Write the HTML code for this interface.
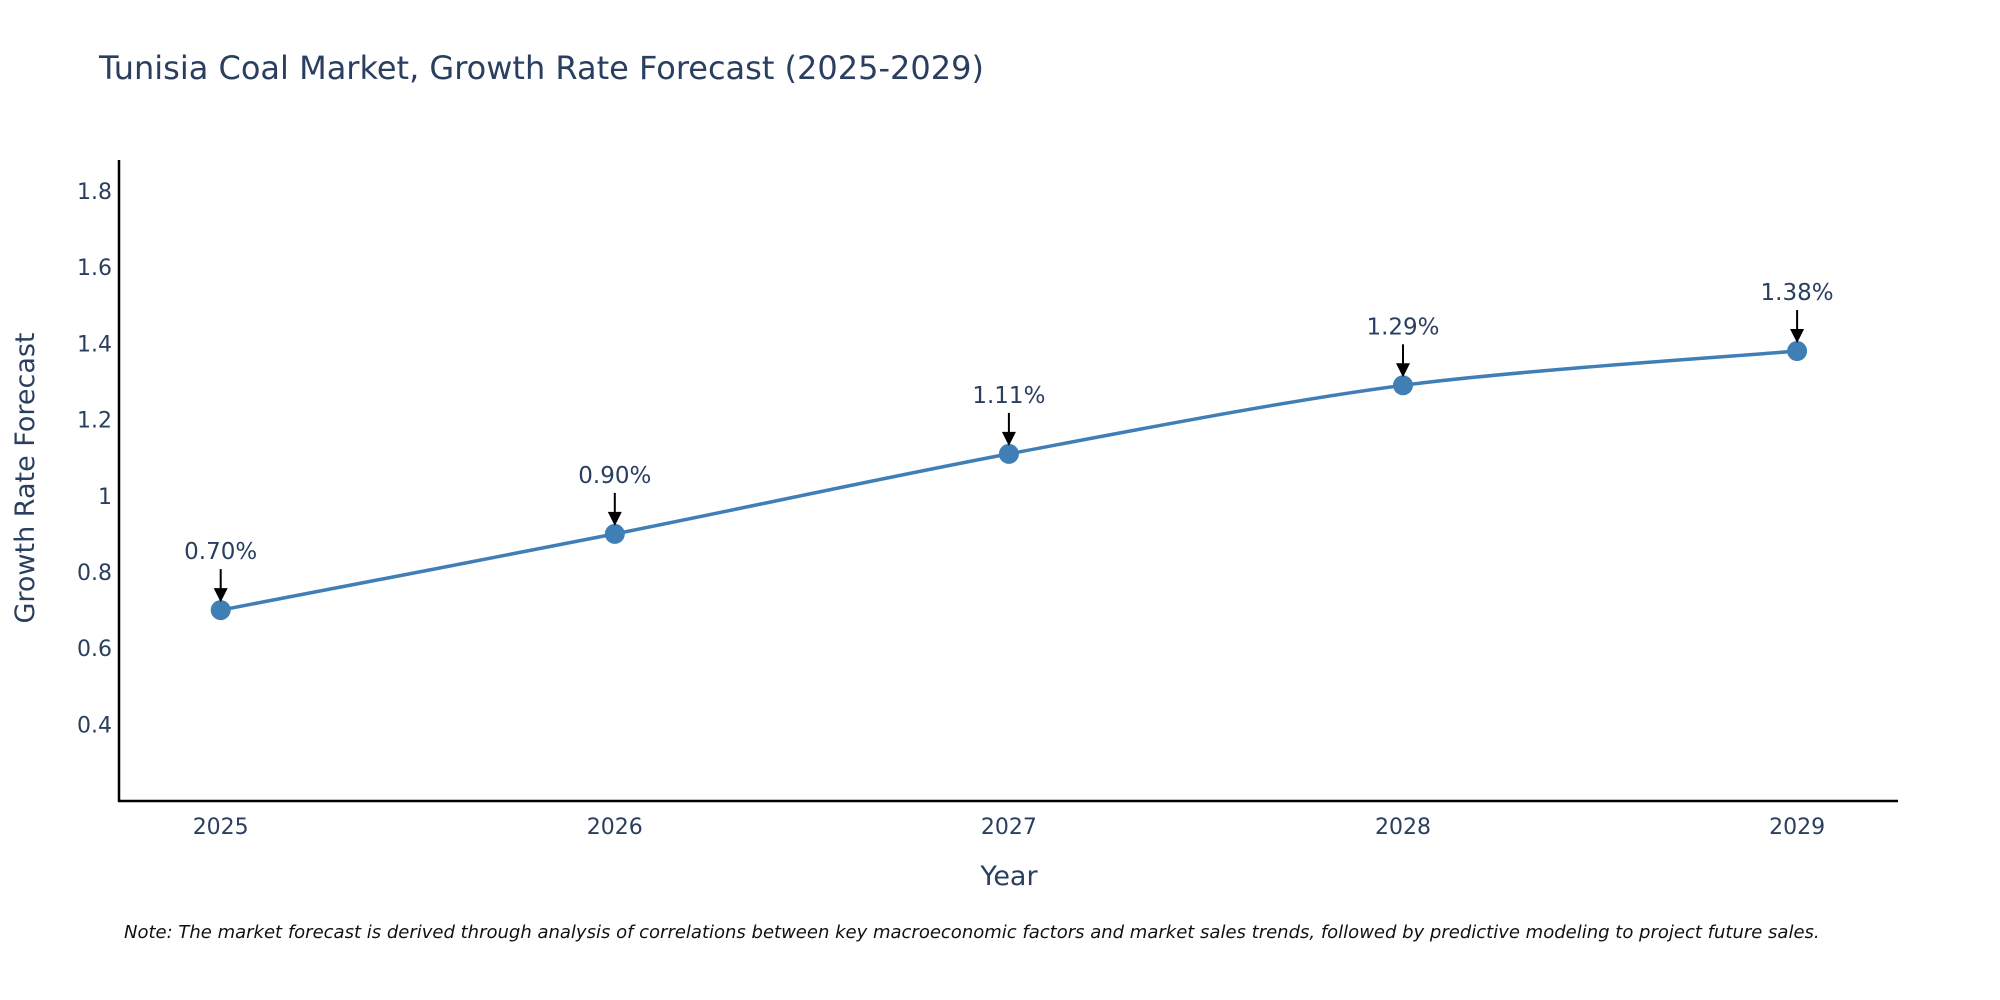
<!DOCTYPE html>
<html><head><meta charset="utf-8"><style>
body{margin:0;background:#fff;}
svg{display:block;font-family:"DejaVu Sans","Liberation Sans",sans-serif;}
</style></head><body>
<svg id="chart" width="2000" height="1000" viewBox="0 0 2000 1000" xmlns="http://www.w3.org/2000/svg">
<rect width="2000" height="1000" fill="#fff"/>
<text x="99" y="79" font-size="32" fill="#2a3f5f">Tunisia Coal Market, Growth Rate Forecast (2025-2029)</text>
<g id="yticks"></g><g id="xticks"></g>
<line x1="119" y1="160" x2="119" y2="802" stroke="#000" stroke-width="2.5"/>
<line x1="118" y1="801" x2="1898" y2="801" stroke="#000" stroke-width="2.5"/>
<path id="series-line" fill="none" stroke="#3f7fb5" stroke-width="3.5"/>
<g id="points"></g>
<g id="annots"></g>
<text transform="translate(34,478) rotate(-90)" text-anchor="middle" font-size="27" fill="#2a3f5f">Growth Rate Forecast</text>
<text x="1009" y="885" text-anchor="middle" font-size="27" fill="#2a3f5f">Year</text>
<text x="124" y="938" font-size="18" font-style="italic" fill="#111">Note: The market forecast is derived through analysis of correlations between key macroeconomic factors and market sales trends, followed by predictive modeling to project future sales.</text>
</svg>
<script>
const years = [2025, 2026, 2027, 2028, 2029];
const values = [0.70, 0.90, 1.11, 1.29, 1.38];
const labels = ["0.70%", "0.90%", "1.11%", "1.29%", "1.38%"];
const yTicks = [0.4, 0.6, 0.8, 1, 1.2, 1.4, 1.6, 1.8];

const NS = "http://www.w3.org/2000/svg";
function xs(yr){ return 220.7 + (yr - 2025) * 394.1; }
function ys(v){ return 191 + (1.8 - v) * 381; }
function mk(tag, attrs, parent, txt){
  const e = document.createElementNS(NS, tag);
  for (const k in attrs) e.setAttribute(k, attrs[k]);
  if (txt !== undefined) e.textContent = txt;
  parent.appendChild(e); return e;
}
const yt = document.getElementById('yticks');
yTicks.forEach(t => {
  const e = mk('text', {x: 112, y: ys(t) + 8, 'text-anchor': 'end', 'font-size': 22, fill: '#2a3f5f'}, yt, String(t));
  
  
});
const xt = document.getElementById('xticks');
years.forEach(y => {
  const e = mk('text', {x: xs(y), y: 834, 'text-anchor': 'middle', 'font-size': 22, fill: '#2a3f5f'}, xt, String(y));
  
  
});
const P = years.map((y, i) => [xs(y), ys(values[i])]);
let d = `M${P[0][0]},${P[0][1]}`;
const s = 0.15;
for (let i = 0; i < P.length - 1; i++) {
  const p0 = P[i - 1] || P[i], p1 = P[i], p2 = P[i + 1], p3 = P[i + 2] || P[i + 1];
  const c1 = [p1[0] + (p2[0] - p0[0]) * s, p1[1] + (p2[1] - p0[1]) * s];
  const c2 = [p2[0] - (p3[0] - p1[0]) * s, p2[1] - (p3[1] - p1[1]) * s];
  d += ` C${c1[0]},${c1[1]} ${c2[0]},${c2[1]} ${p2[0]},${p2[1]}`;
}
document.getElementById('series-line').setAttribute('d', d);
const pts = document.getElementById('points');
const an = document.getElementById('annots');
P.forEach((p, i) => {
  const c = mk('circle', {cx: p[0], cy: p[1], r: 10, fill: '#3f7fb5'}, pts);
  
  
  const l = mk('line', {x1: p[0], y1: p[1] - 41, x2: p[0], y2: p[1] - 20, stroke: '#000', 'stroke-width': 2}, an);
  
  
  const h = mk('polygon', {points: `${p[0]-7},${p[1]-22} ${p[0]+7},${p[1]-22} ${p[0]},${p[1]-8}`, fill: '#000'}, an);
  
  
  const t = mk('text', {x: p[0], y: p[1] - 51, 'text-anchor': 'middle', 'font-size': 23, fill: '#2a3f5f'}, an, labels[i]);
  
  
});
</script>
</body></html>
